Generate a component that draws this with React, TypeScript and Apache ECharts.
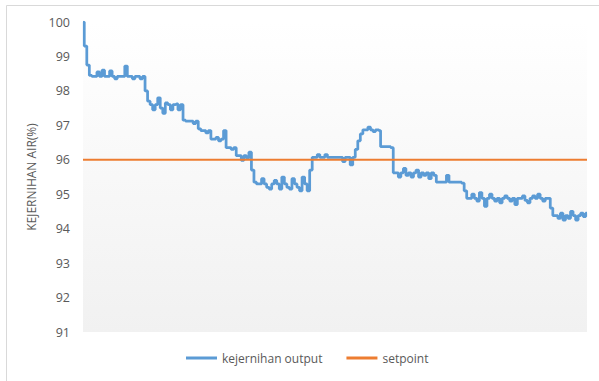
import React, { useEffect, useRef } from "react";
import * as echarts from "echarts";

const yTicks = [91, 92, 93, 94, 95, 96, 97, 98, 99, 100];
const setpointValue = 96;

const outputValues = [
  100, 99.3, 98.75, 98.45,
  98.42, 98.42, 98.55, 98.42, 98.6, 98.42, 98.42, 98.58, 98.42, 98.35, 98.42, 98.42, 98.42, 98.72, 98.42, 98.42, 98.35, 98.42, 98.42, 98.35, 98.42,
  98.0, 97.7,
  97.6, 97.45, 97.6, 97.8, 97.5, 97.35, 97.65, 97.6, 97.45, 97.6, 97.62, 97.45, 97.6,
  97.15, 97.12, 97.12, 97.12, 97.05, 97.12,
  96.9, 96.85, 96.85, 96.78, 96.85,
  96.6, 96.6, 96.65, 96.55, 96.6, 96.85,
  96.35, 96.35, 96.3, 96.35,
  96.12, 96.12, 95.98, 96.12, 96.05, 96.22,
  95.7, 95.35,
  95.3, 95.3, 95.45, 95.3, 95.2, 95.15, 95.3, 95.4, 95.3, 95.15, 95.5, 95.3, 95.2, 95.15, 95.45, 95.3, 95.2, 95.1, 95.5, 95.3, 95.1,
  95.7,
  96.07, 96.07, 96.15, 96.07, 96.07, 96.15, 96.07, 96.07, 96.07, 96.07, 96.07, 96.07, 95.95, 96.07, 96.07, 95.85, 96.07,
  96.3, 96.55, 96.75,
  96.87, 96.87, 96.95, 96.87, 96.82, 96.87, 96.85,
  96.38, 96.38, 96.38, 96.38, 96.35,
  95.62, 95.62, 95.5, 95.62, 95.75, 95.55, 95.62, 95.5, 95.62, 95.7, 95.5, 95.62, 95.55, 95.62, 95.45, 95.62, 95.55,
  95.35, 95.35, 95.35, 95.35, 95.55, 95.35, 95.35, 95.35, 95.35, 95.35, 95.32,
  95.1,
  94.88, 94.88, 95.0, 94.88, 94.8, 95.05, 94.88, 94.65, 94.88, 95.0, 94.88, 94.8, 94.88, 94.75, 94.88, 94.95, 94.88, 94.8, 94.88, 94.7, 94.88, 94.88, 94.95, 94.82, 94.75, 94.88, 94.95, 94.88, 95.0, 94.88, 94.8, 94.88, 94.88,
  94.6,
  94.38, 94.38, 94.3, 94.45, 94.25, 94.38, 94.3, 94.5, 94.38, 94.25, 94.38, 94.45, 94.35, 94.45,
];

const categories = outputValues.map((_, i) => String(i + 1));
const setpointValues = outputValues.map(() => setpointValue);

export default function App() {
  const ref = useRef<HTMLDivElement>(null);
  useEffect(() => {
    if (!ref.current) return;
    const chart = echarts.init(ref.current, null, { renderer: "svg" });
    chart.setOption({
      animation: false,
      backgroundColor: "#ffffff",
      textStyle: { fontFamily: "Open Sans" },
      graphic: [
        {
          type: "rect",
          shape: { x: 6.5, y: 5.5, width: 620, height: 420 },
          style: { fill: "none", stroke: "#d9d9d9", lineWidth: 1 },
          silent: true,
        },
      ],
      grid: {
        left: 83,
        right: 12,
        top: 22,
        bottom: 49,
        show: true,
        borderWidth: 0,
        backgroundColor: new echarts.graphic.LinearGradient(0, 0, 0, 1, [
          { offset: 0, color: "#ffffff" },
          { offset: 1, color: "#f1f1f1" },
        ]),
      },
      legend: {
        left: 186,
        top: 352,
        padding: 0,
        itemWidth: 31,
        itemHeight: 3,
        itemGap: 24,
        icon: "rect",
        textStyle: { color: "#595959", fontSize: 12, fontFamily: "Open Sans" },
        data: ["kejernihan output", "setpoint"],
      },
      xAxis: {
        type: "category",
        data: categories,
        boundaryGap: false,
        axisLine: { show: false },
        axisTick: { show: false },
        axisLabel: { show: false },
        splitLine: { show: false },
      },
      yAxis: {
        type: "value",
        min: yTicks[0],
        max: yTicks[yTicks.length - 1],
        interval: 1,
        name: "KEJERNIHAN AIR(%)",
        nameLocation: "middle",
        nameGap: 45,
        nameRotate: 90,
        nameTextStyle: { color: "#595959", fontSize: 12, fontFamily: "Open Sans" },
        axisLine: { show: false },
        axisTick: { show: false },
        splitLine: { show: false },
        axisLabel: { color: "#595959", fontSize: 12.5, margin: 13, fontFamily: "Open Sans" },
      },
      series: [
        {
          name: "kejernihan output",
          type: "line",
          data: outputValues,
          step: "middle",
          showSymbol: false,
          symbol: "none",
          lineStyle: { color: "#5b9bd5", width: 2.75 },
          itemStyle: { color: "#5b9bd5" },
          z: 2,
        },
        {
          name: "setpoint",
          type: "line",
          data: setpointValues,
          showSymbol: false,
          symbol: "none",
          lineStyle: { color: "#ed7d31", width: 2 },
          itemStyle: { color: "#ed7d31" },
          z: 3,
        },
      ],
    });
    return () => chart.dispose();
  }, []);
  return (
    <div
      ref={ref}
      style={{ position: "fixed", left: 0, top: 0, width: 599, height: 381 }}
    />
  );
}
